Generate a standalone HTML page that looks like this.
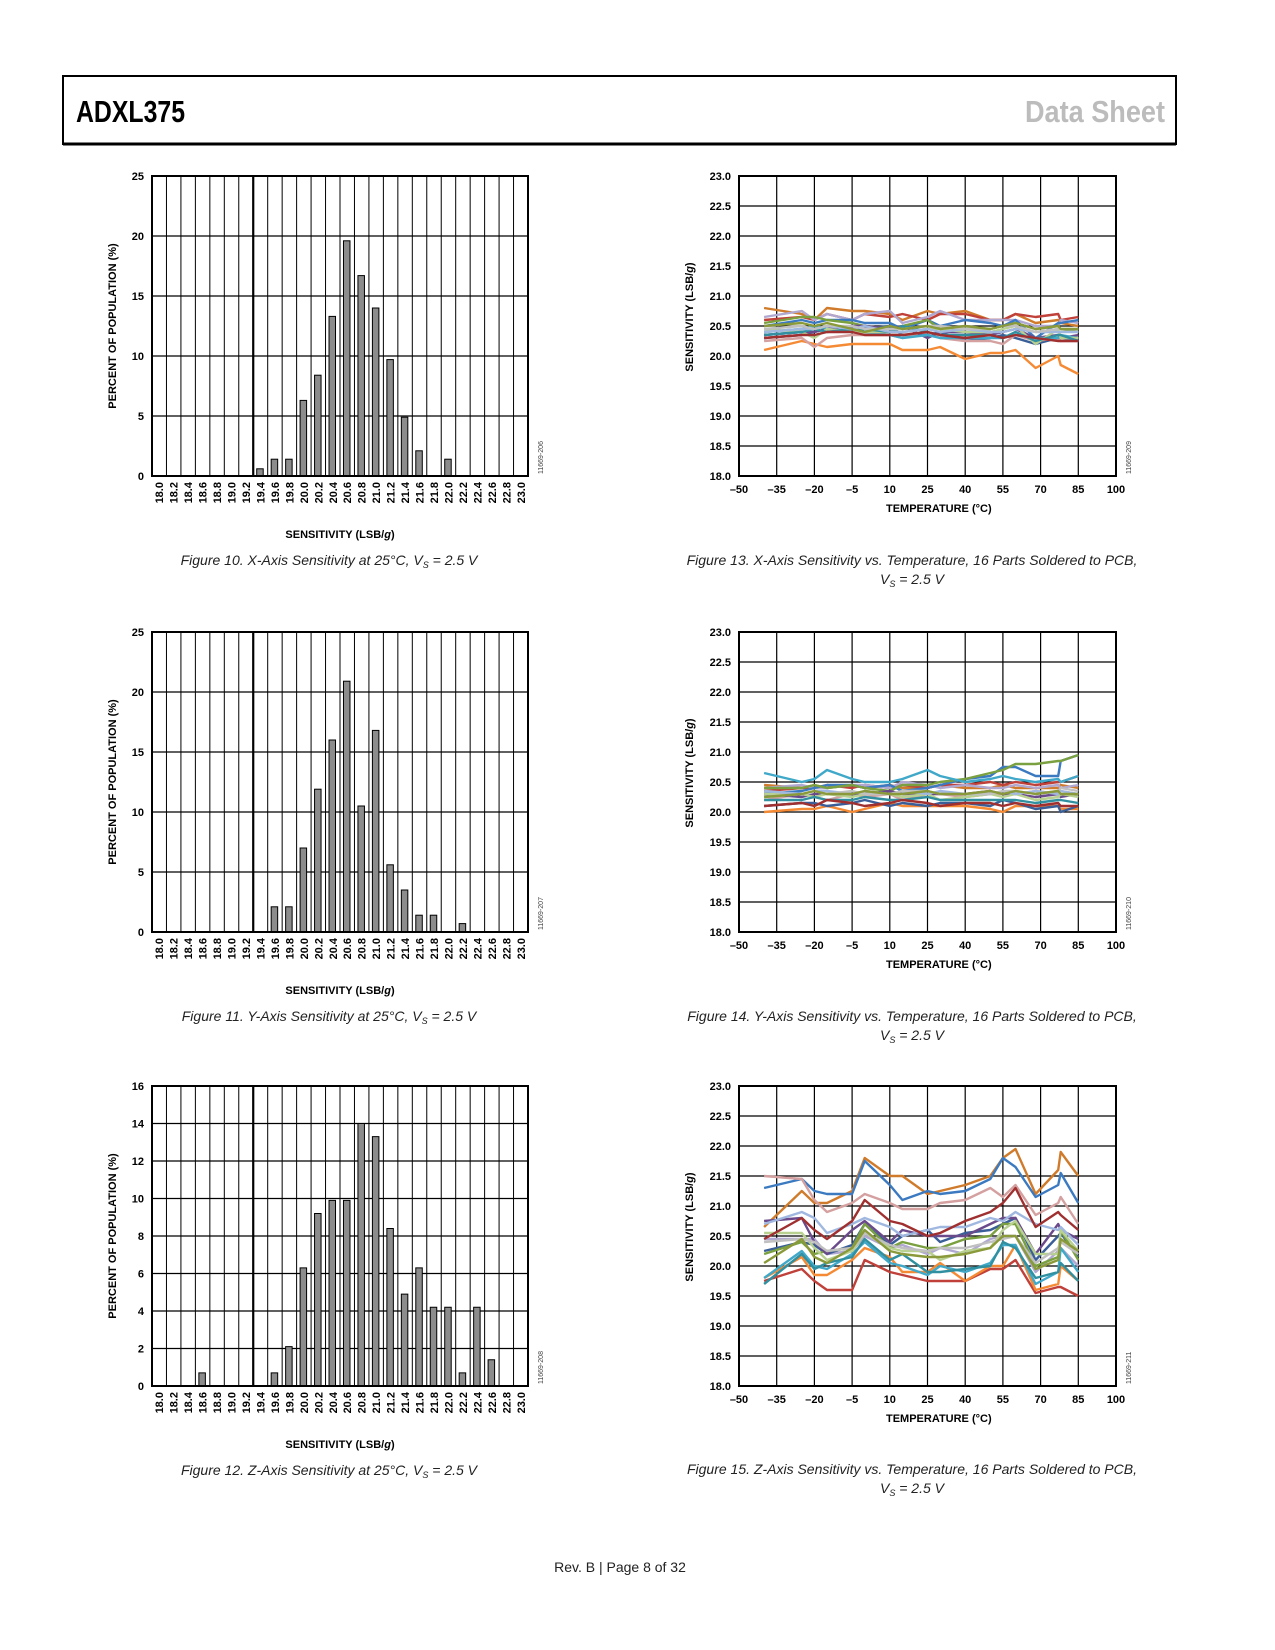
<!DOCTYPE html>
<html><head><meta charset="utf-8">
<style>
html,body{margin:0;padding:0;background:#fff;}
svg{display:block;}
.t{font-family:"Liberation Sans",sans-serif;font-weight:bold;font-size:11px;fill:#000;}
.idl{font-family:"Liberation Sans",sans-serif;font-weight:normal;font-size:7px;fill:#444;}
.cap{font-family:"Liberation Sans Narrow","Liberation Sans",sans-serif;font-style:italic;font-size:14px;fill:#222;}
</style></head>
<body>
<svg id="page" width="1275" height="1650" viewBox="0 0 1275 1650" xmlns="http://www.w3.org/2000/svg">
  <rect x="63" y="76" width="1113" height="68" fill="#fff" stroke="#000" stroke-width="2"/>
  <line x1="63" y1="144" x2="1176" y2="144" stroke="#000" stroke-width="3"/>
  <text x="76" y="122" textLength="109" lengthAdjust="spacingAndGlyphs" font-family="'Liberation Sans Narrow','Liberation Sans',sans-serif" font-weight="bold" font-size="31" fill="#000">ADXL375</text>
  <text x="1025" y="122" textLength="140" lengthAdjust="spacingAndGlyphs" font-family="'Liberation Sans Narrow','Liberation Sans',sans-serif" font-weight="bold" font-size="31" fill="#bcbcbc">Data Sheet</text>

  <text class="cap" x="329" y="565" text-anchor="middle">Figure 10. X-Axis Sensitivity at 25°C, V<tspan font-size="9" dy="3">S</tspan><tspan dy="-3"> = 2.5 V</tspan></text>
  <text class="cap" x="329" y="1021" text-anchor="middle">Figure 11. Y-Axis Sensitivity at 25°C, V<tspan font-size="9" dy="3">S</tspan><tspan dy="-3"> = 2.5 V</tspan></text>
  <text class="cap" x="329" y="1475" text-anchor="middle">Figure 12. Z-Axis Sensitivity at 25°C, V<tspan font-size="9" dy="3">S</tspan><tspan dy="-3"> = 2.5 V</tspan></text>

  <text class="cap" x="912" y="565" text-anchor="middle">Figure 13. X-Axis Sensitivity vs. Temperature, 16 Parts Soldered to PCB,</text>
  <text class="cap" x="912" y="584" text-anchor="middle">V<tspan font-size="9" dy="3">S</tspan><tspan dy="-3"> = 2.5 V</tspan></text>
  <text class="cap" x="912" y="1021" text-anchor="middle">Figure 14. Y-Axis Sensitivity vs. Temperature, 16 Parts Soldered to PCB,</text>
  <text class="cap" x="912" y="1040" text-anchor="middle">V<tspan font-size="9" dy="3">S</tspan><tspan dy="-3"> = 2.5 V</tspan></text>
  <text class="cap" x="912" y="1474" text-anchor="middle">Figure 15. Z-Axis Sensitivity vs. Temperature, 16 Parts Soldered to PCB,</text>
  <text class="cap" x="912" y="1493" text-anchor="middle">V<tspan font-size="9" dy="3">S</tspan><tspan dy="-3"> = 2.5 V</tspan></text>

  <text x="620" y="1572" text-anchor="middle" font-family="'Liberation Sans Narrow','Liberation Sans',sans-serif" font-size="14" fill="#222">Rev. B | Page 8 of 32</text>
</svg>
<script>
// ---------- Histogram data ----------
const histCategories = ["18.0","18.2","18.4","18.6","18.8","19.0","19.2","19.4","19.6","19.8","20.0","20.2","20.4","20.6","20.8","21.0","21.2","21.4","21.6","21.8","22.0","22.2","22.4","22.6","22.8","23.0"];
const histXValues = [0,0,0,0,0,0,0,0.6,1.4,1.4,6.3,8.4,13.3,19.6,16.7,14.0,9.7,4.9,2.1,0,1.4,0,0,0,0,0];
const histYValues = [0,0,0,0,0,0,0,0,2.1,2.1,7.0,11.9,16.0,20.9,10.5,16.8,5.6,3.5,1.4,1.4,0,0.7,0,0,0,0];
const histZValues = [0,0,0,0.7,0,0,0,0,0.7,2.1,6.3,9.2,9.9,9.9,14.0,13.3,8.4,4.9,6.3,4.2,4.2,0.7,4.2,1.4,0,0];
const histXTicks = [0,5,10,15,20,25];
const histYTicks = [0,5,10,15,20,25];
const histZTicks = [0,2,4,6,8,10,12,14,16];

// ---------- Temperature chart data ----------
const temps = [-40,-25,-20,-15,-5,0,10,15,25,30,40,50,55,60,68,77,78,85];
const tempTicks = [-50,-35,-20,-5,10,25,40,55,70,85,100];
const sensTicks = [18.0,18.5,19.0,19.5,20.0,20.5,21.0,21.5,22.0,22.5,23.0];
const seriesColors = ["#d07b2b","#c0403a","#f58a35","#b0a8d0","#3b7ac0","#3a5e98","#7aa040","#d4a0a0","#6a4a8a","#40a8c8","#b8d090","#3090a0","#a0b8e0","#c0c0c0","#8a9a3a","#a03030"];

const xSeries1 = [20.8,20.7,20.6,20.8,20.75,20.75,20.7,20.6,20.75,20.7,20.75,20.6,20.6,20.7,20.55,20.6,20.55,20.5];
const xSeries2 = [20.6,20.65,20.6,20.7,20.6,20.7,20.65,20.7,20.6,20.7,20.7,20.6,20.6,20.7,20.65,20.7,20.6,20.65];
const xSeries3 = [20.1,20.25,20.2,20.15,20.2,20.2,20.2,20.1,20.1,20.15,19.95,20.05,20.05,20.1,19.8,20.0,19.85,19.7];
const xSeries4 = [20.65,20.75,20.6,20.7,20.6,20.7,20.75,20.55,20.65,20.75,20.6,20.6,20.6,20.6,20.5,20.5,20.6,20.55];
const xSeries5 = [20.5,20.6,20.55,20.6,20.6,20.55,20.55,20.45,20.6,20.5,20.6,20.55,20.5,20.6,20.3,20.55,20.55,20.6];
const xSeries6 = [20.3,20.35,20.4,20.45,20.4,20.45,20.5,20.35,20.35,20.4,20.25,20.3,20.35,20.3,20.2,20.3,20.25,20.3];
const xSeries7 = [20.55,20.65,20.65,20.6,20.55,20.5,20.45,20.5,20.6,20.45,20.45,20.45,20.5,20.55,20.45,20.5,20.45,20.4];
const xSeries8 = [20.25,20.3,20.15,20.3,20.35,20.35,20.35,20.3,20.4,20.3,20.25,20.25,20.2,20.35,20.25,20.3,20.25,20.25];
const xSeries9 = [20.35,20.4,20.4,20.45,20.5,20.5,20.45,20.5,20.3,20.4,20.4,20.35,20.4,20.45,20.3,20.35,20.3,20.35];
const xSeries10 = [20.4,20.45,20.5,20.45,20.4,20.4,20.35,20.3,20.35,20.3,20.3,20.3,20.3,20.35,20.3,20.3,20.35,20.3];
const xSeries11 = [20.45,20.4,20.3,20.45,20.4,20.4,20.4,20.4,20.45,20.45,20.4,20.4,20.45,20.5,20.2,20.45,20.3,20.3];
const xSeries12 = [20.35,20.4,20.45,20.4,20.45,20.45,20.4,20.5,20.4,20.35,20.35,20.35,20.3,20.4,20.25,20.35,20.35,20.25];
const xSeries13 = [20.4,20.45,20.45,20.5,20.45,20.5,20.4,20.4,20.45,20.4,20.45,20.4,20.4,20.45,20.4,20.4,20.4,20.4];
const xSeries14 = [20.45,20.5,20.45,20.5,20.5,20.45,20.45,20.45,20.5,20.5,20.45,20.45,20.5,20.5,20.4,20.45,20.45,20.45];
const xSeries15 = [20.5,20.55,20.5,20.55,20.45,20.4,20.5,20.45,20.5,20.45,20.5,20.45,20.5,20.55,20.45,20.5,20.45,20.45];
const xSeries16 = [20.3,20.35,20.35,20.4,20.4,20.35,20.35,20.35,20.4,20.35,20.3,20.35,20.3,20.35,20.3,20.25,20.25,20.25];

const ySeries1 = [20.45,20.4,20.45,20.4,20.45,20.4,20.45,20.4,20.4,20.45,20.4,20.4,20.45,20.4,20.4,20.4,20.45,20.4];
const ySeries2 = [20.35,20.4,20.4,20.45,20.4,20.45,20.4,20.45,20.4,20.45,20.45,20.5,20.45,20.5,20.45,20.5,20.5,20.6];
const ySeries3 = [20.0,20.05,20.05,20.1,20.0,20.05,20.15,20.1,20.1,20.1,20.1,20.05,20.0,20.1,20.1,20.1,20.05,20.05];
const ySeries4 = [20.4,20.45,20.4,20.4,20.45,20.45,20.4,20.5,20.45,20.4,20.45,20.4,20.4,20.45,20.4,20.45,20.4,20.45];
const ySeries5 = [20.3,20.35,20.4,20.45,20.45,20.4,20.45,20.35,20.4,20.45,20.55,20.6,20.75,20.75,20.6,20.6,20.85,20.95];
const ySeries6 = [20.1,20.15,20.15,20.1,20.15,20.2,20.1,20.15,20.1,20.15,20.15,20.1,20.2,20.15,20.05,20.1,20.0,20.1];
const ySeries7 = [20.4,20.4,20.45,20.4,20.45,20.4,20.35,20.45,20.45,20.5,20.55,20.65,20.7,20.8,20.8,20.85,20.85,20.95];
const ySeries8 = [20.2,20.3,20.25,20.2,20.3,20.25,20.3,20.2,20.3,20.3,20.25,20.3,20.3,20.3,20.35,20.3,20.35,20.3];
const ySeries9 = [20.3,20.25,20.3,20.3,20.3,20.3,20.35,20.3,20.3,20.3,20.3,20.35,20.3,20.3,20.25,20.3,20.25,20.3];
const ySeries10 = [20.65,20.5,20.55,20.7,20.55,20.5,20.5,20.55,20.7,20.6,20.5,20.55,20.6,20.55,20.5,20.55,20.5,20.6];
const ySeries11 = [20.3,20.3,20.25,20.3,20.25,20.3,20.3,20.25,20.3,20.2,20.25,20.3,20.25,20.3,20.2,20.25,20.3,20.25];
const ySeries12 = [20.2,20.2,20.25,20.2,20.2,20.25,20.2,20.2,20.25,20.2,20.2,20.2,20.2,20.2,20.15,20.2,20.2,20.15];
const ySeries13 = [20.35,20.3,20.35,20.35,20.3,20.35,20.3,20.35,20.3,20.35,20.3,20.3,20.35,20.3,20.35,20.3,20.35,20.3];
const ySeries14 = [20.25,20.3,20.35,20.3,20.35,20.3,20.3,20.35,20.35,20.3,20.3,20.3,20.35,20.35,20.3,20.35,20.4,20.35];
const ySeries15 = [20.25,20.3,20.35,20.3,20.3,20.35,20.3,20.3,20.35,20.3,20.3,20.35,20.3,20.35,20.3,20.35,20.3,20.3];
const ySeries16 = [20.1,20.15,20.1,20.2,20.15,20.1,20.15,20.2,20.15,20.1,20.15,20.15,20.1,20.15,20.1,20.15,20.1,20.1];

const zSeries1 = [20.65,21.25,21.05,21.05,21.25,21.8,21.5,21.5,21.2,21.25,21.35,21.5,21.8,21.95,21.2,21.6,21.9,21.5];
const zSeries2 = [19.75,19.95,19.75,19.6,19.6,20.1,19.9,19.85,19.75,19.75,19.75,19.95,19.95,20.1,19.55,19.65,19.65,19.5];
const zSeries3 = [19.8,20.15,19.85,19.85,20.1,20.3,20.15,19.9,19.9,20.05,19.75,20.0,20.0,20.35,19.6,19.7,20.0,19.75];
const zSeries4 = [20.45,20.45,20.45,20.2,20.25,20.5,20.3,20.35,20.2,20.3,20.2,20.45,20.5,20.5,19.9,20.25,20.3,20.0];
const zSeries5 = [21.3,21.45,21.25,21.2,21.2,21.75,21.35,21.1,21.25,21.2,21.25,21.45,21.8,21.65,21.15,21.35,21.55,21.05];
const zSeries6 = [20.25,20.4,20.35,20.2,20.35,20.7,20.35,20.5,20.6,20.4,20.55,20.6,20.7,20.8,20.1,20.5,20.55,20.15];
const zSeries7 = [20.2,20.4,20.2,20.25,20.3,20.7,20.3,20.4,20.3,20.3,20.45,20.5,20.7,20.7,20.0,20.15,20.6,20.1];
const zSeries8 = [21.5,21.45,21.1,20.9,21.05,21.2,21.05,20.95,20.95,21.05,21.1,21.3,21.15,21.35,20.85,21.05,21.15,20.7];
const zSeries9 = [20.75,20.8,20.4,20.2,20.6,20.75,20.4,20.6,20.5,20.5,20.5,20.7,20.8,20.8,20.2,20.7,20.6,20.45];
const zSeries10 = [19.8,20.25,20.0,19.95,20.2,20.4,20.05,20.0,19.85,20.0,19.9,20.05,20.35,20.35,19.7,19.9,20.3,19.9];
const zSeries11 = [20.55,20.55,20.3,20.1,20.25,20.55,20.3,20.25,20.25,20.1,20.25,20.3,20.6,20.75,20.2,20.2,20.6,20.25];
const zSeries12 = [19.7,20.2,19.95,20.05,20.15,20.45,20.1,20.2,19.9,19.9,19.95,20.0,20.4,20.3,19.8,19.9,20.05,19.75];
const zSeries13 = [20.7,20.9,20.8,20.55,20.7,20.8,20.65,20.5,20.6,20.65,20.65,20.8,20.75,20.9,20.7,20.6,20.65,20.35];
const zSeries14 = [20.4,20.45,20.4,20.25,20.3,20.55,20.35,20.3,20.25,20.3,20.3,20.4,20.45,20.5,20.05,20.3,20.4,20.2];
const zSeries15 = [20.05,20.45,20.15,20.05,20.3,20.6,20.25,20.2,20.15,20.15,20.2,20.3,20.5,20.5,19.95,20.1,20.45,20.25];
const zSeries16 = [20.45,20.8,20.6,20.45,20.75,21.1,20.75,20.7,20.5,20.55,20.75,20.9,21.05,21.3,20.65,20.9,20.85,20.6];

const xSeries = [xSeries1,xSeries2,xSeries3,xSeries4,xSeries5,xSeries6,xSeries7,xSeries8,xSeries9,xSeries10,xSeries11,xSeries12,xSeries13,xSeries14,xSeries15,xSeries16];
const ySeries = [ySeries1,ySeries2,ySeries3,ySeries4,ySeries5,ySeries6,ySeries7,ySeries8,ySeries9,ySeries10,ySeries11,ySeries12,ySeries13,ySeries14,ySeries15,ySeries16];
const zSeries = [zSeries1,zSeries2,zSeries3,zSeries4,zSeries5,zSeries6,zSeries7,zSeries8,zSeries9,zSeries10,zSeries11,zSeries12,zSeries13,zSeries14,zSeries15,zSeries16];

const NS = "http://www.w3.org/2000/svg";
const page = document.getElementById('page');
function mk(tag, attrs, parent) {
  const e = document.createElementNS(NS, tag);
  for (const k in attrs) e.setAttribute(k, attrs[k]);
  (parent || page).appendChild(e);
  return e;
}
function txt(parent, x, y, s, cls, extra) {
  const t = mk('text', Object.assign({x: x, y: y, class: cls || 't'}, extra || {}), parent);
  t.textContent = s;
  return t;
}

function histogram(name, L, T, W, H, vals, ticks, idLabel) {
  const g = mk('g', {});
  
  
  const n = histCategories.length;
  const cw = W / n;
  const ymax = ticks[ticks.length - 1];
  const yS = v => T + H - v / ymax * H;
  const xS = i => L + i * cw;
  ticks.forEach(v => {
    mk('line', {x1: L, x2: L + W, y1: yS(v), y2: yS(v), stroke: '#000', 'stroke-width': 1.2}, g);
    const lb = txt(g, L - 8, yS(v) + 4, String(v), 't', {'text-anchor': 'end'});
    
    
  });
  for (let i = 1; i < n; i++) {
    mk('line', {x1: xS(i), x2: xS(i), y1: T, y2: T + H, stroke: '#000', 'stroke-width': i === 7 ? 2.2 : 1}, g);
  }
  vals.forEach((v, i) => {
    if (v <= 0) return;
    const bw = 6.5;
    const b = mk('rect', {x: xS(i) + cw / 2 - bw / 2 - 0.5, y: yS(v), width: bw, height: T + H - yS(v), fill: '#8c8c8c', stroke: '#000', 'stroke-width': 1}, g);
    
    
  });
  mk('rect', {x: L, y: T, width: W, height: H, fill: 'none', stroke: '#000', 'stroke-width': 2}, g);
  histCategories.forEach((c, i) => {
    const cx = xS(i) + cw / 2 + 4;
    const cy = T + H + 6;
    const lb = txt(g, cx, cy, c, 't', {'text-anchor': 'end', transform: 'rotate(-90 ' + cx + ' ' + cy + ')'});
    
    
  });
  const yt = txt(g, 0, 0, 'PERCENT OF POPULATION (%)', 't', {'text-anchor': 'middle', transform: 'translate(116 ' + (T + H / 2) + ') rotate(-90)'});
  
  
  const xt = mk('text', {x: L + W / 2, y: T + H + 62, class: 't', 'text-anchor': 'middle'}, g);
  xt.innerHTML = 'SENSITIVITY (LSB/<tspan font-style="italic">g</tspan>)';
  
  
  const id = txt(g, 0, 0, idLabel, 'idl', {'text-anchor': 'start', transform: 'translate(543 ' + (T + H - 2) + ') rotate(-90)'});
  
  
}

function tempChart(name, L, T, W, H, series, idLabel) {
  const g = mk('g', {});
  
  
  const xS = t => L + (t + 50) / 150 * W;
  const yS = v => T + H - (v - 18) / 5 * H;
  sensTicks.forEach(v => {
    mk('line', {x1: L, x2: L + W, y1: yS(v), y2: yS(v), stroke: '#000', 'stroke-width': 1.2}, g);
    const lb = txt(g, L - 8, yS(v) + 4, v.toFixed(1), 't', {'text-anchor': 'end'});
    
    
  });
  tempTicks.forEach(t => {
    mk('line', {x1: xS(t), x2: xS(t), y1: T, y2: T + H, stroke: '#000', 'stroke-width': 1.2}, g);
    const lb = txt(g, xS(t), T + H + 17, t < 0 ? '\u2013' + (-t) : String(t), 't', {'text-anchor': 'middle'});
    
    
  });
  series.forEach((s, k) => {
    const d = s.map((v, i) => (i ? 'L' : 'M') + xS(temps[i]).toFixed(1) + ' ' + yS(v).toFixed(1)).join(' ');
    const p = mk('path', {d: d, fill: 'none', stroke: seriesColors[k], 'stroke-width': 2.4, 'stroke-linejoin': 'round'}, g);
    
    
  });
  mk('rect', {x: L, y: T, width: W, height: H, fill: 'none', stroke: '#000', 'stroke-width': 2}, g);
  const yt = mk('text', {class: 't', 'text-anchor': 'middle', transform: 'translate(693 ' + (T + H * 0.47) + ') rotate(-90)'}, g);
  yt.innerHTML = 'SENSITIVITY (LSB/<tspan font-style="italic">g</tspan>)';
  
  
  const xt = txt(g, L + W * 0.53, T + H + 36, 'TEMPERATURE (°C)', 't', {'text-anchor': 'middle'});
  
  
  const id = txt(g, 0, 0, idLabel, 'idl', {'text-anchor': 'start', transform: 'translate(1131 ' + (T + H - 2) + ') rotate(-90)'});
  
  
}

histogram('x-axis-histogram', 152, 176, 376, 300, histXValues, histXTicks, '11669-206');
histogram('y-axis-histogram', 152, 632, 376, 300, histYValues, histYTicks, '11669-207');
histogram('z-axis-histogram', 152, 1086, 376, 300, histZValues, histZTicks, '11669-208');
tempChart('x-axis-temp-chart', 739, 176, 377, 300, xSeries, '11669-209');
tempChart('y-axis-temp-chart', 739, 632, 377, 300, ySeries, '11669-210');
tempChart('z-axis-temp-chart', 739, 1086, 377, 300, zSeries, '11669-211');
</script>
</body></html>
